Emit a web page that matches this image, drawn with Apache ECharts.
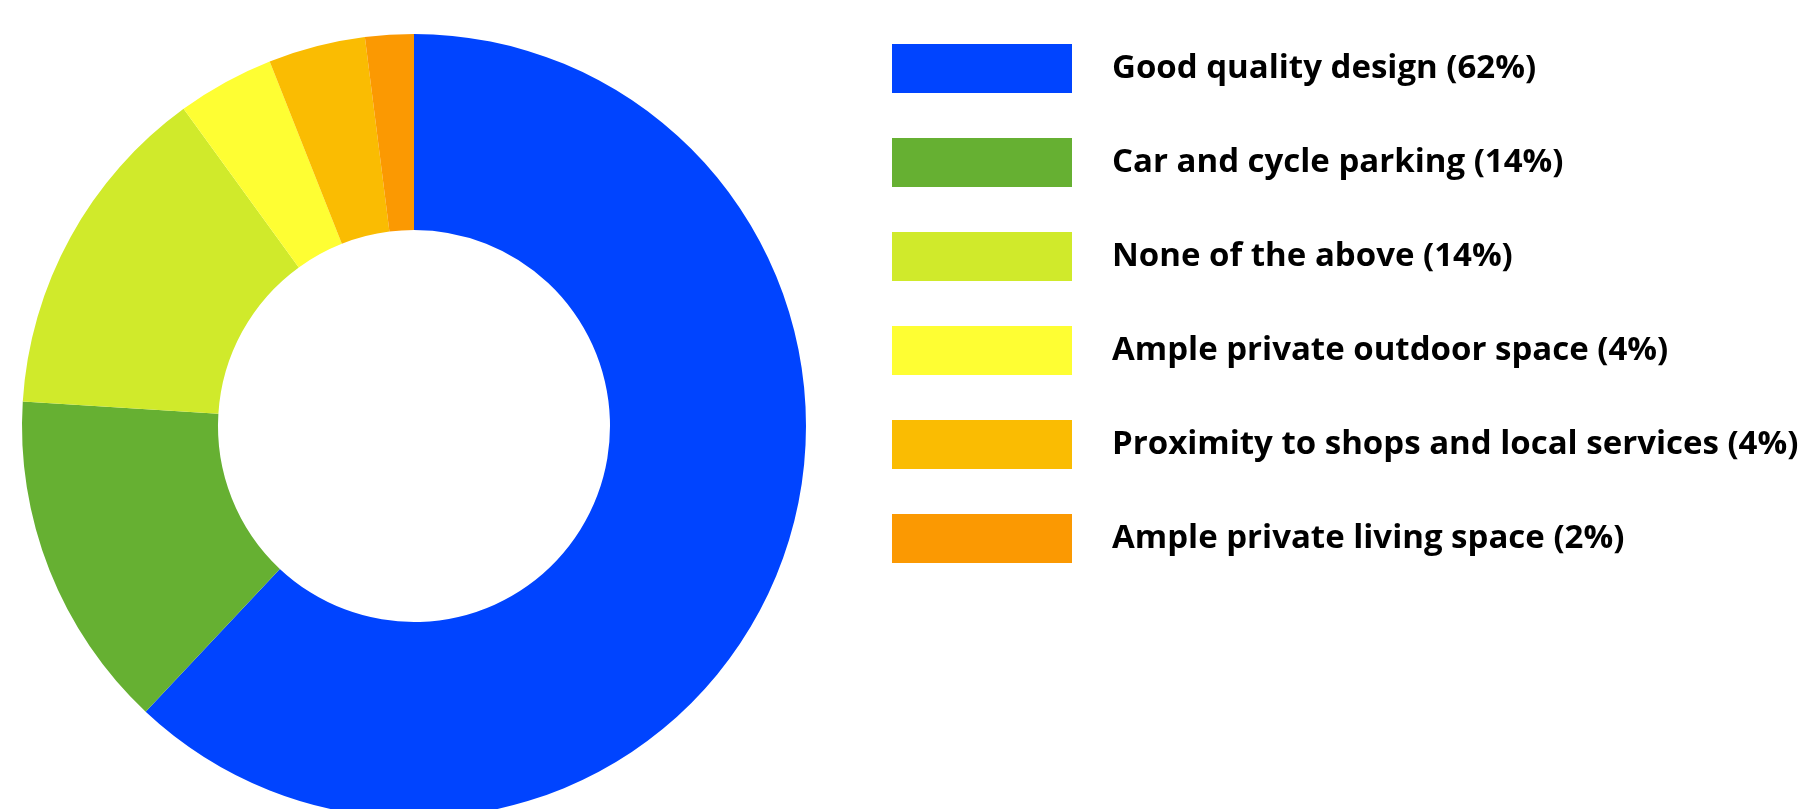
<!DOCTYPE html>
<html>
<head>
<meta charset="utf-8">
<script src="https://cdn.jsdelivr.net/npm/echarts@6/dist/echarts.min.js"></script>
<style>
html,body{margin:0;padding:0;background:#fff;}
#chart{width:1815px;height:809px;}
</style>
</head>
<body>
<div id="chart"></div>
<script>
const categories = [
  "Good quality design",
  "Car and cycle parking",
  "None of the above",
  "Ample private outdoor space",
  "Proximity to shops and local services",
  "Ample private living space"
];
const values = [62, 14, 14, 4, 4, 2];
const colors = ["#0044FF", "#66B032", "#D0EA2B", "#FEFE33", "#FABC02", "#FB9902"];

const chart = echarts.init(document.getElementById('chart'));
const data = categories.map((c, i) => ({ name: c, value: values[i], itemStyle: { color: colors[i] } }));
chart.setOption({
  animation: false,
  legend: {
    orient: 'vertical',
    left: 892,
    top: 44,
    padding: 0,
    itemWidth: 180,
    itemHeight: 49,
    itemGap: 45,
    icon: 'rect',
    selectedMode: false,
    formatter: function (name) {
      const i = categories.indexOf(name);
      return name + ' (' + values[i] + '%)';
    },
    textStyle: {
      fontFamily: 'Open Sans',
      fontWeight: 'bold',
      fontSize: 33,
      lineHeight: 36,
      color: '#000',
      padding: [12, 0, 0, 35]
    }
  },
  series: [{
    type: 'pie',
    center: [414, 426],
    radius: [196, 392],
    startAngle: 90,
    clockwise: true,
    label: { show: false },
    labelLine: { show: false },
    emphasis: { disabled: true },
    itemStyle: { borderWidth: 0 },
    data: data
  }]
});
</script>
</body>
</html>
